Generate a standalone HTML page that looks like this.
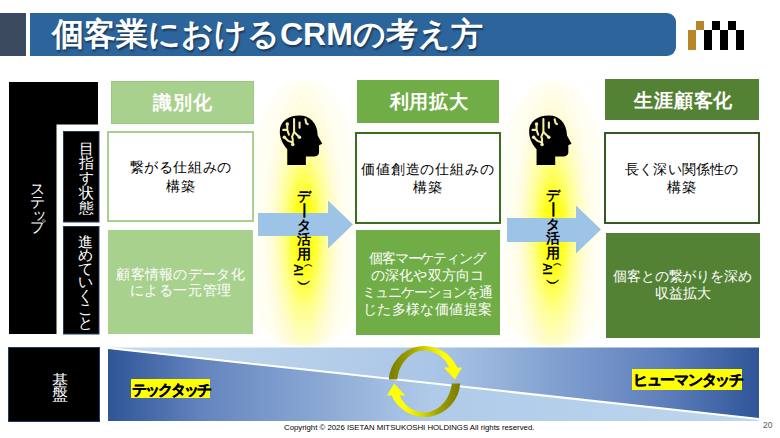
<!DOCTYPE html>
<html><head><meta charset="utf-8">
<style>
*{margin:0;padding:0;box-sizing:border-box}
html,body{width:780px;height:438px;overflow:hidden;background:#fff;font-family:"Liberation Sans",sans-serif}
.a{position:absolute}
.ttl{left:52px;top:16px;font-size:32px;line-height:36px;font-weight:bold;color:#fff;white-space:nowrap;text-shadow:1px 2px 2px rgba(0,0,0,.45)}
.hd{display:flex;align-items:center;justify-content:center;color:#fff;font-weight:bold;font-size:19px;letter-spacing:0.8px;padding-left:0.8px;white-space:nowrap}
.bx{display:flex;align-items:center;justify-content:center;text-align:center;white-space:nowrap}
.st{text-align:center;white-space:nowrap}
.st span{display:block}
.glow{filter:blur(2.5px);border-radius:48px 48px 44px 44px/80px 80px 40px 40px;background:radial-gradient(ellipse 42% 58% at 50% 58%,#ffff00 0%,#ffff10 22%,#ffff90 50%,#fffcd8 78%,#fffef2 100%)}
</style></head><body>
<!-- title -->
<div class="a" style="left:0;top:12.5px;width:26.4px;height:43.5px;background:#3b4a5f"></div>
<div class="a" style="left:30.4px;top:12.5px;width:645.4px;height:43.5px;background:#2c659c;border-radius:0 9px 9px 0"></div>
<div class="a ttl">個客業におけるCRMの考え方</div>
<!-- logo -->
<svg class="a" style="left:688px;top:21px" width="57" height="30" viewBox="0 0 57 30">
<rect x="0" y="9" width="8" height="20" fill="#b8862a"/>
<rect x="8" y="0" width="8" height="9" fill="#b8862a"/>
<rect x="16" y="9" width="8" height="20" fill="#000"/>
<rect x="24" y="0" width="8" height="9" fill="#000"/>
<rect x="32" y="9" width="8" height="20" fill="#000"/>
<rect x="40" y="0" width="8" height="9" fill="#000"/>
<rect x="48" y="9" width="8" height="20" fill="#000"/>
</svg>
<!-- glows -->
<div class="a glow" style="left:256px;top:80px;width:96px;height:266px"></div>
<div class="a glow" style="left:505px;top:80px;width:96px;height:266px"></div>
<!-- left structure -->
<svg class="a" style="left:0;top:0" width="110" height="438">
<path d="M9 82H98V124.5H56.5V334H9Z" fill="#000"/>
<rect x="63.5" y="131.5" width="35.5" height="90.5" fill="#000" stroke="#203864" stroke-width="1"/>
<rect x="63.5" y="226.5" width="35.5" height="107.5" fill="#000" stroke="#203864" stroke-width="1"/>
<rect x="8.5" y="347.5" width="91" height="74" fill="#000" stroke="#203864" stroke-width="1"/>
</svg>

<div class="a st" style="left:29.9px;top:183px;width:15px;font-size:15px;line-height:12.8px;color:#fff;"><span>ス</span><span>テ</span><span style="transform:translate(2.5px,-1px)">ッ</span><span>プ</span></div>
<div class="a st" style="left:78.5px;top:141.5px;width:15px;font-size:15px;line-height:14.8px;color:#fff;"><span>目</span><span>指</span><span>す</span><span>状</span><span>態</span></div>
<div class="a st" style="left:77.5px;top:234.5px;width:15px;font-size:15px;line-height:13.6px;color:#fff;"><span>進</span><span>め</span><span>て</span><span>い</span><span>く</span><span>こ</span><span>と</span></div>
<div class="a st" style="left:51.5px;top:373.5px;width:16px;font-size:16px;line-height:14px;color:#fff;"><span>基</span><span>盤</span></div>
<div class="a hd" style="left:111px;top:81px;width:142.5px;height:42.5px;background:#a9d18e;border:0.5px solid #9cc87f;padding-top:1.5px;padding-left:1px">識別化</div>
<div class="a hd" style="left:357px;top:80px;width:142px;height:42.5px;background:#70ad47;padding-top:1.5px;padding-left:2.5px">利用拡大</div>
<div class="a hd" style="left:605px;top:78.5px;width:154px;height:41.5px;background:#548235;padding-top:3px;padding-left:3.5px">生涯顧客化</div>
<div class="a bx" style="left:107px;top:130.5px;width:147px;height:91.5px;border:2px solid #a9d18e;color:#000;font-size:14px;line-height:18.6px"><div style="margin-top:1.5px"><div style="letter-spacing:0.6px;margin-right:-0.6px">繋がる仕組みの</div><div style="letter-spacing:0.5px;margin-right:-0.5px">構築</div></div></div>
<div class="a bx" style="left:354.5px;top:132px;width:146.0px;height:91.5px;border:2px solid #3a6d1c;color:#000;font-size:14px;line-height:17.7px"><div style="margin-top:1.5px"><div style="letter-spacing:0.85px;margin-right:-0.85px">価値創造の仕組みの</div><div style="letter-spacing:0.5px;margin-right:-0.5px">構築</div></div></div>
<div class="a bx" style="left:604px;top:132px;width:155.5px;height:91.5px;border:2px solid #385723;color:#000;font-size:14px;line-height:17.9px"><div style="margin-top:2px"><div style="letter-spacing:0.2px;margin-right:-0.2px">長く深い関係性の</div><div style="letter-spacing:0.5px;margin-right:-0.5px">構築</div></div></div>
<div class="a bx" style="left:108px;top:229.5px;width:145px;height:104.5px;background:#a9d18e;color:#fff;font-size:14px;line-height:16px"><div style="margin-top:0px"><div style="letter-spacing:0.3px;margin-right:-0.3px">顧客情報のデータ化</div><div style="letter-spacing:0.6px;margin-right:-0.6px">による一元管理</div></div></div>
<div class="a bx" style="left:355.5px;top:230px;width:144.0px;height:105px;background:#70ad47;color:#fff;font-size:14px;line-height:16.8px"><div style="margin-top:3px"><div style="letter-spacing:-1.1px;margin-right:1.1px">個客マーケティング</div><div style="letter-spacing:0.25px;margin-right:-0.25px">の深化や双方向コ</div><div style="letter-spacing:-1.1px;margin-right:1.1px">ミュニケーションを通</div><div style="letter-spacing:0.35px;margin-right:-0.35px">じた多様な価値提案</div></div></div>
<div class="a bx" style="left:605.5px;top:232.5px;width:154.0px;height:105.0px;background:#548235;color:#fff;font-size:14px;line-height:17.4px"><div style="margin-top:0px"><div style="letter-spacing:-0.15px;margin-right:0.15px">個客との繋がりを深め</div><div style="letter-spacing:0px;margin-right:0px">収益拡大</div></div></div>

<svg class="a" style="left:0;top:0" width="780" height="438">
<defs>
<g id="head">
<path d="M13.2 53.6V38.4C8 33 6 27 6 21.2C6 12 14 6 25.1 6C35 6 42.3 13 42.6 25.1L47 33.1L43.9 34.7V41.7C43.9 44 41.5 45.6 38.4 45.6H31.2V53.6Z" fill="#000"/>
<g stroke="#f4f0a0" stroke-width="2" fill="none" stroke-linecap="round" stroke-linejoin="round">
<path d="M19.8 9.3V21.8L24.5 26.5"/>
<path d="M19.8 21.8L17.8 26.5L18.5 28.5V33.5"/>
<path d="M9.3 19.8H13.2V14.5M13.2 19.8L14.8 24.5"/>
<path d="M10.6 27.1L14 30.4L17.8 31.8"/>
<path d="M25.1 12.6V17.8"/>
<path d="M30.7 9.5L31.5 13.2L33 14.3"/>
</g>
<g fill="#f4f0a0"><circle cx="25" cy="27" r="1.7"/><circle cx="18.5" cy="34" r="1.7"/><circle cx="13.2" cy="14" r="1.7"/><circle cx="10.4" cy="27" r="1.7"/></g>
</g>
</defs>
<use href="#head" transform="translate(273.6 109.4) scale(1.035)"/>
<use href="#head" transform="translate(522.9 109.4) scale(1.035)"/>
<path d="M258 213H328V200.5L353 224.5L328 248.5V236H258Z" fill="#9dc3e6"/>
<path d="M507 218H576V205.5L601 229.5L576 253.5V242H507Z" fill="#9dc3e6"/>
</svg>

<div class="a st" style="left:295.8px;top:188.5px;width:16px;font-size:14px;line-height:14.6px;font-weight:bold;color:#000"><span>デ</span><span style="transform:rotate(90deg) scaleX(1.2)">ー</span><span>タ</span><span>活</span><span>用</span><span style="position:relative;height:24px;margin-top:1px"><span style="position:absolute;left:-3.5px;top:1.5px;width:12px;height:12px;line-height:12px;font-size:12px;transform:rotate(90deg)">AI</span><span style="position:absolute;left:8.2px;top:-2.5px;font-size:9px;line-height:9px">︵</span><span style="position:absolute;left:1.6px;top:14.1px;font-size:14px;line-height:14px">︶</span></span></div>
<div class="a st" style="left:544.8px;top:187.5px;width:16px;font-size:14px;line-height:14.6px;font-weight:bold;color:#000"><span>デ</span><span style="transform:rotate(90deg) scaleX(1.2)">ー</span><span>タ</span><span>活</span><span>用</span><span style="position:relative;height:24px;margin-top:1px"><span style="position:absolute;left:-3.5px;top:1.5px;width:12px;height:12px;line-height:12px;font-size:12px;transform:rotate(90deg)">AI</span><span style="position:absolute;left:8.2px;top:-2.5px;font-size:9px;line-height:9px">︵</span><span style="position:absolute;left:1.6px;top:14.1px;font-size:14px;line-height:14px">︶</span></span></div>

<svg class="a" style="left:0;top:0" width="780" height="438">
<defs>
<linearGradient id="g1" gradientUnits="userSpaceOnUse" x1="108" x2="759" y1="0" y2="0"><stop offset="0" stop-color="#2f5597"/><stop offset="0.15" stop-color="#6585bf"/><stop offset="0.5" stop-color="#b0cbe9"/><stop offset="1" stop-color="#bdd7ee"/></linearGradient>
<linearGradient id="g2" gradientUnits="userSpaceOnUse" x1="108" x2="759" y1="0" y2="0"><stop offset="0" stop-color="#c8dcf0"/><stop offset="0.5" stop-color="#aac6e6"/><stop offset="0.85" stop-color="#5f80bd"/><stop offset="1" stop-color="#2f5597"/></linearGradient>
<linearGradient id="cy" gradientUnits="userSpaceOnUse" x1="389" x2="462" y1="0" y2="0"><stop offset="0" stop-color="#7a7a00"/><stop offset="0.3" stop-color="#a0a000"/><stop offset="0.55" stop-color="#dede00"/><stop offset="0.75" stop-color="#ffff00"/></linearGradient>
</defs>
<path d="M108 347.5H759V419Z" fill="url(#g2)"/>
<path d="M108 348.5L759 419V421H108Z" fill="url(#g1)"/>
<path d="M108 348L759 419" stroke="#fff" stroke-width="2"/>
<g id="cyc">
<path d="M388.8 379.4A35.7 35.4 0 0 1 457.3 367.6H462.1L454.8 379.4L443.9 367.6H449.5A28 33 0 0 0 397.2 379.4Z" fill="url(#cy)"/>
</g>
<use href="#cyc" transform="rotate(180 424.5 381.5)"/>
</svg>
<div class="a" style="left:131.3px;top:379px;width:79px;height:19.3px;background:#ff0"></div>
<div class="a" style="left:132px;top:379.5px;font-weight:bold;font-size:15px;line-height:19px;letter-spacing:-2px;-webkit-text-stroke:0.35px #000;white-space:nowrap">テックタッチ</div>
<div class="a" style="left:632.2px;top:368.7px;width:109.5px;height:20.9px;background:#ff0"></div>
<div class="a" style="left:633px;top:369.7px;font-weight:bold;font-size:15px;line-height:19px;letter-spacing:-1.3px;-webkit-text-stroke:0.35px #000;white-space:nowrap">ヒューマンタッチ</div>
<div class="a" style="left:284px;top:423px;font-size:7.8px;color:#000;white-space:nowrap">Copyright © 2026 ISETAN MITSUKOSHI HOLDINGS All rights reserved.</div>
<div class="a" style="left:763px;top:420px;font-size:8.5px;color:#595959">20</div>
</body></html>
